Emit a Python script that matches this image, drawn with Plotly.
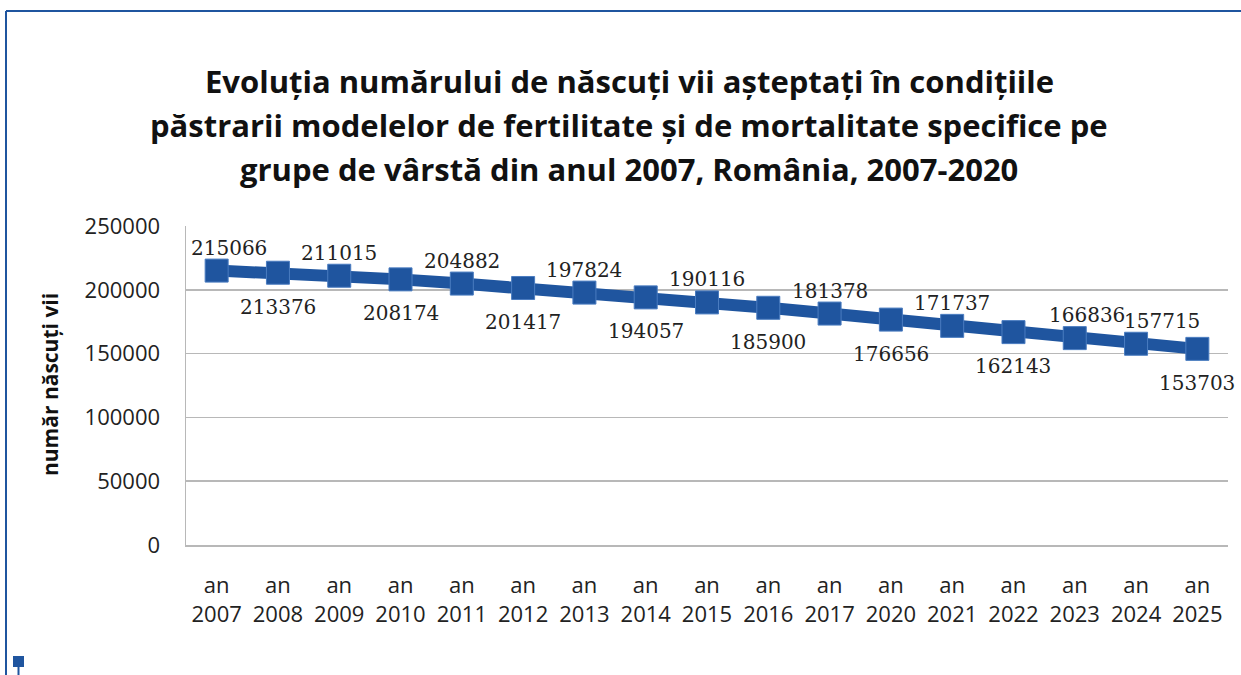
import plotly.graph_objects as go

categories = ["an<br>2007", "an<br>2008", "an<br>2009", "an<br>2010", "an<br>2011", "an<br>2012",
              "an<br>2013", "an<br>2014", "an<br>2015", "an<br>2016", "an<br>2017", "an<br>2020",
              "an<br>2021", "an<br>2022", "an<br>2023", "an<br>2024", "an<br>2025"]
values = [215066, 213376, 211015, 208174, 204882, 201417, 197824, 194057, 190116,
          185900, 181378, 176656, 171737, 166836, 162143, 157715, 153703]
label_texts = ["215066", "213376", "211015", "208174", "204882", "201417", "197824", "194057",
               "190116", "185900", "181378", "176656", "171737", "162143", "166836", "157715", "153703"]
label_side = ["top", "bottom", "top", "bottom", "top", "bottom", "top", "bottom", "top",
              "bottom", "top", "bottom", "top", "bottom", "top", "top", "bottom"]
y_ticks = [0, 50000, 100000, 150000, 200000, 250000]

title_lines = ["Evoluția numărului de născuți vii așteptați în condițiile",
               "păstrarii modelelor de fertilitate și de mortalitate specifice pe",
               "grupe de vârstă din anul 2007, România, 2007-2020"]

W, H = 1241, 675
# plot area in page pixels
L, R, T, B = 186, 1228, 226, 545

blue = "#1F559F"

fig = go.Figure()
fig.add_trace(go.Scatter(
    x=categories, y=values, mode="lines+markers",
    line=dict(color=blue, width=12),
    marker=dict(symbol="square", size=23, color=blue, line=dict(color="#4A7CC0", width=1)),
    hoverinfo="skip", showlegend=False,
))

annotations = []
for i, (c, v, t, s) in enumerate(zip(categories, values, label_texts, label_side)):
    xshift = 0
    if i == 0:
        xshift = 12
    elif t == "166836":
        xshift = 12
    elif t == "157715":
        xshift = 26
    annotations.append(dict(
        x=c, y=v, xref="x", yref="y", text=t, showarrow=False,
        yshift=23 if s == "top" else -34, xshift=xshift,
        font=dict(family="DejaVu Serif", size=20, color="#222222"),
    ))


def px_x(p):
    return (p - L) / (R - L)


def px_y(p):
    return (B - p) / (B - T)


shapes = [
    dict(type="line", xref="paper", yref="paper", x0=px_x(6), x1=px_x(1241), y0=px_y(11), y1=px_y(11),
         line=dict(color=blue, width=2)),
    dict(type="line", xref="paper", yref="paper", x0=px_x(6), x1=px_x(6), y0=px_y(11), y1=px_y(675),
         line=dict(color=blue, width=2)),
    dict(type="rect", xref="paper", yref="paper", x0=px_x(13), x1=px_x(24), y0=px_y(656), y1=px_y(667),
         fillcolor=blue, line=dict(width=0)),
    dict(type="line", xref="paper", yref="paper", x0=px_x(18.5), x1=px_x(18.5), y0=px_y(667), y1=px_y(675),
         line=dict(color=blue, width=2)),
]

annotations.append(dict(
    x=px_x(50), y=px_y(385), xref="paper", yref="paper", text="<b>număr născuți vii</b>",
    showarrow=False, textangle=-90, xanchor="center", yanchor="middle",
    font=dict(family="Open Sans", size=21, color="#111111"),
))

for line_text, yc in zip(title_lines, [81, 125, 169]):
    annotations.append(dict(
        x=px_x(629), y=px_y(yc), xref="paper", yref="paper", text="<b>" + line_text + "</b>",
        showarrow=False, xanchor="center", yanchor="middle",
        font=dict(family="Open Sans", size=31, color="#111111"),
    ))

fig.update_layout(
    width=W, height=H,
    margin=dict(l=L, r=W - R, t=T, b=H - B, pad=0),
    paper_bgcolor="white", plot_bgcolor="white",
    hovermode=False,
    shapes=shapes, annotations=annotations,
    xaxis=dict(
        type="category", showgrid=False, showline=True, linecolor="#B8B8B8", linewidth=1.5,
        tickfont=dict(family="Open Sans", size=22, color="#222222"),
        ticks="", ticklabelstandoff=20, range=[-0.5, len(categories) - 0.5],
    ),
    yaxis=dict(
        range=[0, 250000], tickvals=y_ticks, ticktext=[str(v) for v in y_ticks],
        showgrid=True, gridcolor="#B8B8B8", gridwidth=1.5,
        showline=True, linecolor="#B8B8B8", linewidth=1.5,
        zeroline=False,
        tickfont=dict(family="Open Sans", size=22, color="#222222"),
        ticks="", ticklabelstandoff=20,
    ),
)

fig.write_html(
    "out.html",
    config={"displayModeBar": False, "staticPlot": True},
    post_script="document.body.style.margin='0px';document.body.style.overflow='hidden';",
)
